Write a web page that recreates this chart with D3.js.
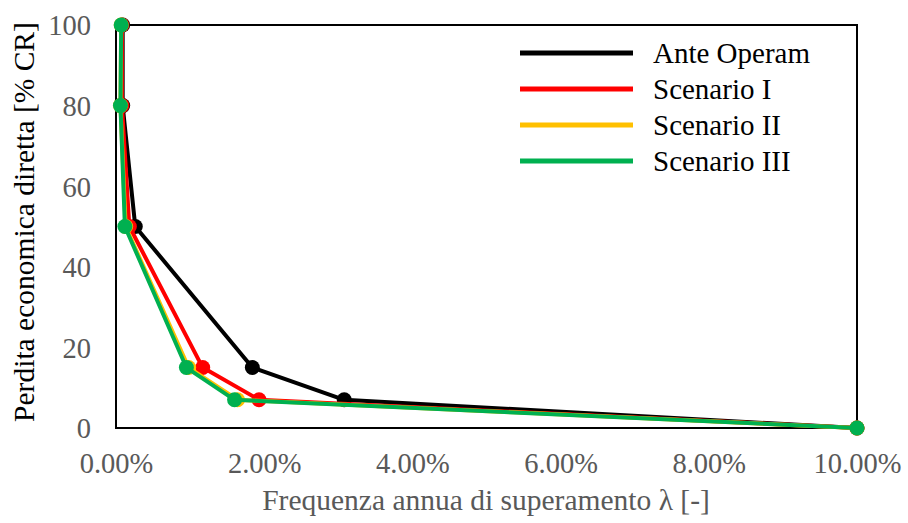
<!DOCTYPE html>
<html><head><meta charset="utf-8">
<script src="https://cdn.jsdelivr.net/npm/d3@7"></script>
<style>body{margin:0;background:#fff}svg{display:block}</style>
</head><body><svg id="c" width="908" height="523"></svg>
<script>
const seriesNames = ["Ante Operam","Scenario I","Scenario II","Scenario III"];
const seriesColors = ["#000000","#ff0000","#ffc000","#00b050"];
const lossValues = [100, 80, 50, 15, 7, 0];
const freqAnte = [0.0009, 0.0009, 0.0026, 0.0184, 0.0308, 0.10];
const freqS1   = [0.0008, 0.0008, 0.0018, 0.0117, 0.0193, 0.10];
const freqS2   = [0.0007, 0.0006, 0.0013, 0.0098, 0.0164, 0.10];
const freqS3   = [0.0007, 0.0006, 0.0012, 0.0095, 0.0160, 0.10];
const xTicks = [0, 0.02, 0.04, 0.06, 0.08, 0.10];
const yTicks = [0, 20, 40, 60, 80, 100];
const allFreq = [freqAnte, freqS1, freqS2, freqS3];

const svg = d3.select("#c");
const L=116, R=857, T=25, B=428;
const x = d3.scaleLinear().domain([0,0.10]).range([L,R]);
const y = d3.scaleLinear().domain([0,100]).range([B,T]);
const font = "'Liberation Serif','Times New Roman',serif";

svg.append("rect").attr("x",L).attr("y",T).attr("width",R-L).attr("height",B-T)
  .attr("fill","none").attr("stroke","#000").attr("stroke-width",2);

const xAxis = svg.append("g").attr("transform",`translate(0,${B})`)
  .call(d3.axisBottom(x).tickValues(xTicks).tickSize(0).tickFormat(d3.format(".2%")));
xAxis.select(".domain").remove();
xAxis.selectAll("text").attr("dy",0).attr("y",45).attr("font-family",font)
  .attr("font-size",28.5).attr("fill","#595959");

const yAxis = svg.append("g").attr("transform",`translate(${L},0)`)
  .call(d3.axisLeft(y).tickValues(yTicks).tickSize(0).tickFormat(d3.format("d")));
yAxis.select(".domain").remove();
yAxis.selectAll("text").attr("x",-25).attr("dy","0.35em").attr("font-family",font)
  .attr("font-size",28.5).attr("fill","#595959");

svg.append("text").attr("x",486).attr("y",510).attr("text-anchor","middle")
  .attr("font-family",font).attr("font-size",29.5).attr("fill","#595959")
  .text("Frequenza annua di superamento λ [-]");
svg.append("text").attr("transform",`translate(34,222) rotate(-90)`)
  .attr("text-anchor","middle")
  .attr("font-family",font).attr("font-size",29.5).attr("fill","#000")
  .text("Perdita economica diretta [% CR]");

const line = d3.line().x(d=>x(d[0])).y(d=>y(d[1]));
allFreq.forEach((f,i)=>{
  const pts = f.map((v,j)=>[v, lossValues[j]]);
  const g = svg.append("g");
  g.append("path").attr("d",line(pts)).attr("fill","none")
    .attr("stroke",seriesColors[i]).attr("stroke-width",4).attr("stroke-linejoin","round");
  g.selectAll("circle").data(pts).join("circle")
    .attr("cx",d=>x(d[0])).attr("cy",d=>y(d[1])).attr("r",7.5).attr("fill",seriesColors[i]);
});

const leg = svg.append("g");
seriesNames.forEach((n,i)=>{
  const yy = 53 + i*36;
  leg.append("line").attr("x1",520).attr("x2",633).attr("y1",yy).attr("y2",yy)
    .attr("stroke",seriesColors[i]).attr("stroke-width",5);
  leg.append("text").attr("x",653).attr("y",yy).attr("dy","0.35em")
    .attr("font-family",font).attr("font-size",29).attr("fill","#000").text(n);
});
</script></body></html>
